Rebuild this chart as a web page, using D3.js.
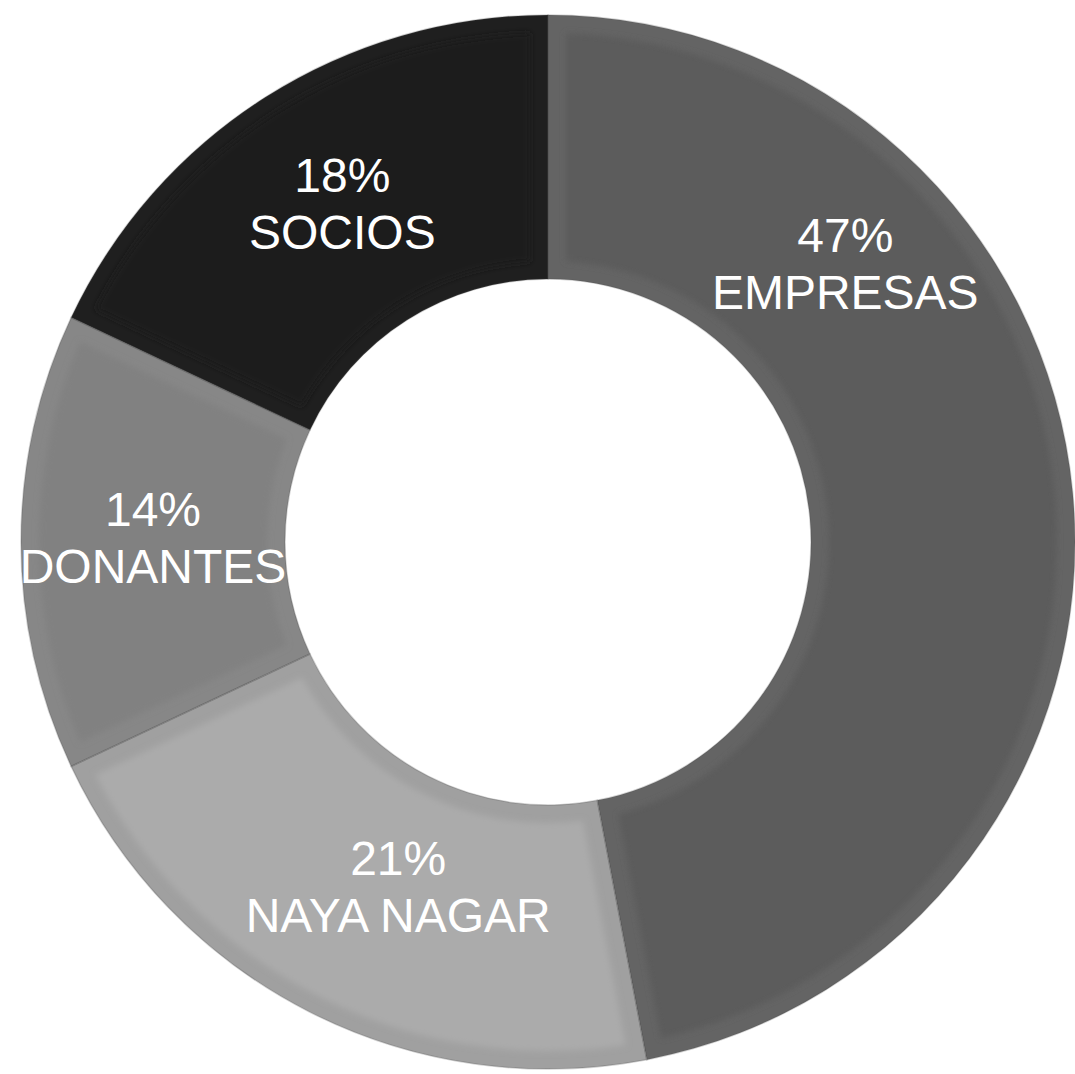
<!DOCTYPE html>
<html>
<head>
<meta charset="utf-8">
<script src="https://cdn.jsdelivr.net/npm/d3@7"></script>
<style>
  html, body { margin: 0; padding: 0; background: #fff; }
  svg { display: block; }
</style>
</head>
<body>
<svg class="donut"></svg>
<script>
// chart data
const categories = ["EMPRESAS", "NAYA NAGAR", "DONANTES", "SOCIOS"];
const values = [47, 21, 14, 18];
const fills = ["#5c5c5c", "#ababab", "#818181", "#1e1e1e"];
const edges = ["#646464", "#a0a0a0", "#878787", "#1f1f1f"];

// dimensions
const width = 1075;
const height = 1074;
const cx = 548;
const cy = 542;
const outerR = 527;
const innerR = 263;
const bevel = 18;

const svg = d3.select(".donut")
  .attr("width", width)
  .attr("height", height);

// soft edge for the bevel face
svg.append("defs").append("filter")
  .attr("id", "soft")
  .append("feGaussianBlur")
  .attr("stdDeviation", 3);

const g = svg.append("g").attr("transform", `translate(${cx},${cy})`);

// pie layout, clockwise from 12 o'clock, keep order
const pie = d3.pie().sort(null).startAngle(0).endAngle(2 * Math.PI);
const arcs = pie(values);

const arcOuter = d3.arc().innerRadius(innerR).outerRadius(outerR);
const arcInner = d3.arc()
  .innerRadius(innerR + bevel)
  .outerRadius(outerR - bevel)
  .padRadius(400)
  .padAngle(2 * bevel / 400);

// slices
const slices = g.selectAll("g.slice").data(arcs).join("g")
  .attr("class", "slice");

slices.append("path")
  .attr("d", arcOuter)
  .attr("fill", (d, i) => edges[i]);

slices.append("path")
  .attr("d", arcInner)
  .attr("fill", (d, i) => fills[i])
  .attr("filter", "url(#soft)");

// thin separators between slices
g.selectAll("path.sep").data(arcs).join("path")
  .attr("class", "sep")
  .attr("d", arcOuter)
  .attr("fill", "none")
  .attr("stroke", "#4a4a4a")
  .attr("stroke-opacity", 0.25)
  .attr("stroke-width", 1.5);

// labels: centroid, except the two bottom/right slices placed like the original
const labelArc = d3.arc().innerRadius(395).outerRadius(395);
const labelPos = d => {
  if (d.index === 0) {
    const a = d.startAngle + (d.endAngle - d.startAngle) * 0.28;
    return [Math.sin(a) * 404, -Math.cos(a) * 404];
  }
  if (d.index === 1) {
    const a = d.startAngle + (d.endAngle - d.startAngle) * 0.45;
    return [Math.sin(a) * 380, -Math.cos(a) * 380];
  }
  const c = labelArc.centroid(d);
  return d.index === 3 ? [c[0] + 6, c[1]] : c;
};

const labels = g.selectAll("text.lbl").data(arcs).join("text")
  .attr("class", "lbl")
  .attr("transform", d => `translate(${labelPos(d)})`)
  .attr("text-anchor", "middle")
  .style("font-family", "'Liberation Sans', Arial, sans-serif")
  .style("font-size", "48px")
  .attr("fill", "#ffffff");

labels.append("tspan")
  .attr("x", 0)
  .attr("y", -16)
  .text(d => `${values[d.index]}%`);

labels.append("tspan")
  .attr("x", 0)
  .attr("y", 41)
  .text(d => categories[d.index]);
</script>
</body>
</html>
